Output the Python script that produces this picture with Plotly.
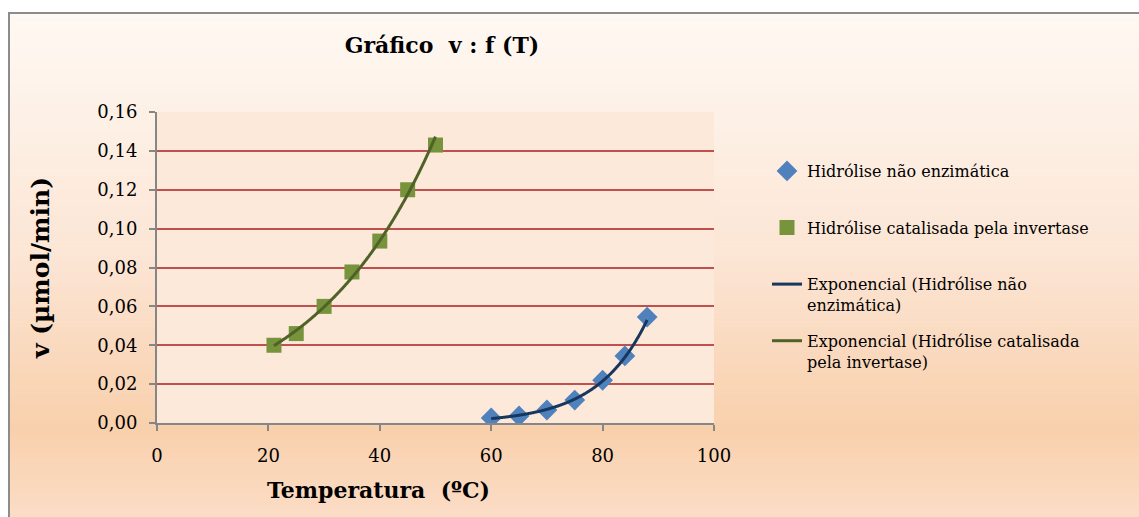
import numpy as np
import plotly.graph_objects as go

# ---- data ----
temp_nao_enz = [60, 65, 70, 75, 80, 84, 88]
v_nao_enz = [0.0026, 0.0036, 0.0067, 0.0118, 0.022, 0.0345, 0.0545]
temp_invertase = [21, 25, 30, 35, 40, 45, 50]
v_invertase = [0.040, 0.046, 0.060, 0.0777, 0.0936, 0.120, 0.143]

x_ticks = [0, 20, 40, 60, 80, 100]
y_ticks = [0.00, 0.02, 0.04, 0.06, 0.08, 0.10, 0.12, 0.14, 0.16]
y_tick_labels = ["0,00", "0,02", "0,04", "0,06", "0,08", "0,10", "0,12", "0,14", "0,16"]


def exp_fit(x, y):
    x = np.asarray(x, float)
    b, ln_a = np.polyfit(x, np.log(np.asarray(y, float)), 1)
    xs = np.linspace(x.min(), x.max(), 200)
    return xs, np.exp(ln_a) * np.exp(b * xs)


FONT = "DejaVu Serif"
W, H = 1139, 517
L, R, T, B = 157, 714, 112, 423


def px2px(px):
    return (px - L) / (R - L)


def py2py(py):
    return (B - py) / (B - T)


fig = go.Figure()

fig.add_trace(go.Scatter(
    x=temp_nao_enz, y=v_nao_enz, mode="markers", name="Hidrólise não enzimática<br> ",
    marker=dict(symbol="diamond", size=16, color="#4f81bd"), legendgroup="a"))
fig.add_trace(go.Scatter(
    x=temp_invertase, y=v_invertase, mode="markers", name="Hidrólise catalisada pela invertase<br> ",
    marker=dict(symbol="square", size=15, color="#77933c"), legendgroup="b"))
xs1, ys1 = exp_fit(temp_nao_enz, v_nao_enz)
fig.add_trace(go.Scatter(
    x=xs1, y=ys1, mode="lines", name="Exponencial (Hidrólise não<br>enzimática)",
    line=dict(color="#17375e", width=3, shape="spline"), legendgroup="c"))
xs2, ys2 = exp_fit(temp_invertase, v_invertase)
fig.add_trace(go.Scatter(
    x=xs2, y=ys2, mode="lines", name="Exponencial (Hidrólise catalisada<br>pela invertase)",
    line=dict(color="#4f6228", width=3, shape="spline"), legendgroup="d"))

# background gradient (chart area) drawn as thin strips in paper coords
stops = [(13, (254, 249, 243)), (150, (253, 238, 226)), (260, (252, 229, 212)),
         (350, (250, 217, 190)), (430, (249, 208, 172)), (520, (251, 221, 199))]
shapes = []
n = 100
edges = np.linspace(13, 520, n + 1)
for i in range(n):
    y0, y1 = edges[i], edges[i + 1]
    ym = (y0 + y1) / 2
    for j in range(len(stops) - 1):
        if stops[j][0] <= ym <= stops[j + 1][0]:
            t = (ym - stops[j][0]) / (stops[j + 1][0] - stops[j][0])
            c = [round(stops[j][1][k] + t * (stops[j + 1][1][k] - stops[j][1][k])) for k in range(3)]
            break
    col = "rgb(%d,%d,%d)" % tuple(c)
    shapes.append(dict(type="rect", xref="paper", yref="paper", layer="below",
                       x0=px2px(8), x1=px2px(1145), y0=py2py(y0), y1=py2py(y1 + 0.6),
                       fillcolor=col, line=dict(width=0)))
# plot area fill
shapes.append(dict(type="rect", xref="paper", yref="paper", layer="below",
                   x0=0, x1=1, y0=0, y1=1, fillcolor="#fde9da", line=dict(width=0)))
# chart border
shapes.append(dict(type="rect", xref="paper", yref="paper", layer="below",
                   x0=px2px(9), x1=px2px(1160), y0=py2py(13), y1=py2py(540),
                   fillcolor="rgba(0,0,0,0)", line=dict(color="#8c8c8c", width=2)))

annotations = [
    dict(text="<b>Temperatura  (ºC)</b>", xref="paper", yref="paper",
         x=px2px(378), y=py2py(490), xanchor="center", yanchor="middle", showarrow=False,
         font=dict(family=FONT, size=22, color="black")),
    dict(text="<b>v (µmol/min)</b>", xref="paper", yref="paper", textangle=-90,
         x=px2px(40), y=py2py(268), xanchor="center", yanchor="middle", showarrow=False,
         font=dict(family=FONT, size=25, color="black")),
]

fig.update_layout(
    width=W, height=H,
    margin=dict(l=L, r=W - R, t=T, b=H - B, pad=0),
    paper_bgcolor="white",
    plot_bgcolor="rgba(0,0,0,0)",
    shapes=shapes,
    annotations=annotations,
    title=dict(text="<b>Gráfico  v : f (T)</b>", x=442 / W, xanchor="center",
               y=1 - 45 / H, yanchor="middle",
               font=dict(family=FONT, size=22, color="black")),
    font=dict(family=FONT, size=16, color="black"),
    xaxis=dict(range=[0, 100], tickvals=x_ticks, ticktext=[str(v) for v in x_ticks],
               showgrid=False, zeroline=False, showline=True, linecolor="#868686", linewidth=2,
               ticks="outside", ticklen=6, tickcolor="#868686", tickwidth=2,
               ticklabelstandoff=9,
               tickfont=dict(family=FONT, size=18)),
    yaxis=dict(range=[0, 0.16], tickvals=y_ticks, ticktext=y_tick_labels,
               showgrid=True, gridcolor="#c0504d", gridwidth=2, zeroline=False,
               showline=True, linecolor="#868686", linewidth=2,
               ticks="outside", ticklen=6, tickcolor="#868686", tickwidth=2,
               ticklabelstandoff=8,
               tickfont=dict(family=FONT, size=18)),
    legend=dict(x=(767 - L) / (R - L), xanchor="left", y=py2py(154), yanchor="top",
                bgcolor="rgba(0,0,0,0)", font=dict(family=FONT, size=16),
                tracegroupgap=12, valign="top", itemwidth=30),
)

fig.write_html("out.html")
